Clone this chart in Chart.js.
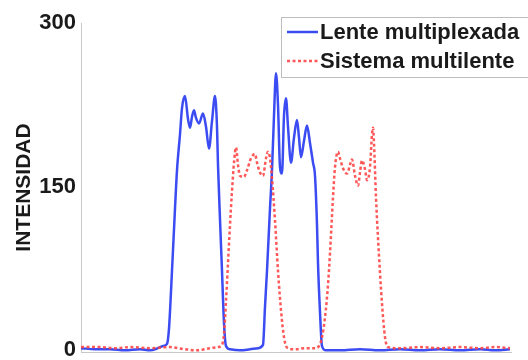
<!DOCTYPE html>
<html>
<head>
<meta charset="utf-8">
<script src="https://cdn.jsdelivr.net/npm/chart.js@4"></script>
<style>
  html, body { margin: 0; padding: 0; background: #fff; }
  #wrap { width: 528px; height: 360px; position: relative; }
</style>
</head>
<body>
<div id="wrap"><canvas id="chartIntensidad"></canvas></div>
<script>
// posicion a lo largo del perfil (sin etiquetas en el eje X)
const posLente = [0, 14, 29, 44, 59, 69, 77, 82, 86, 88, 91, 94, 96, 99, 101, 104, 107, 109, 111, 113,
    115, 118, 122, 125, 128, 131, 134, 136, 137, 139, 141, 143, 145, 149, 159, 169, 177, 182, 184, 186,
    189, 191, 193, 195, 197, 199, 201, 203, 205, 207, 210, 213, 216, 218, 220, 223, 226, 229, 232, 234,
    236, 237, 239, 241, 245, 259, 279, 299, 319, 339, 359, 379, 399, 414, 429];
const intLente = [2, 1, 1, 0, 1, 0, 2, 4, 6, 20, 73, 130, 165, 198, 222, 233, 212, 204, 214, 220,
    213, 208, 217, 205, 185, 210, 233, 205, 170, 120, 73, 25, 4, 1, 0, 1, 2, 5, 40, 73,
    130, 165, 215, 254, 225, 168, 162, 215, 231, 205, 172, 195, 211, 195, 177, 192, 206, 190, 172, 160,
    115, 80, 35, 4, 0, 0, 1, 0, 1, 0, 1, 0, 1, 0, 1];

const posSistema = [0, 19, 34, 49, 69, 89, 104, 116, 129, 137, 141, 143, 145, 147, 149, 151, 153, 155, 157, 159,
    163, 166, 170, 174, 176, 179, 182, 185, 187, 189, 191, 194, 197, 201, 204, 207, 214, 224, 234, 238,
    241, 244, 247, 249, 252, 254, 257, 259, 262, 266, 269, 271, 274, 277, 279, 281, 284, 286, 289, 291,
    292, 293, 295, 297, 301, 304, 307, 319, 339, 359, 379, 399, 414, 429];
const intSistema = [3, 3, 2, 3, 2, 3, 1, 0, 2, 3, 5, 15, 45, 80, 115, 146, 172, 186, 170, 160,
    159, 165, 176, 180, 172, 163, 160, 176, 182, 176, 158, 119, 73, 27, 7, 2, 1, 2, 2, 4,
    12, 30, 60, 89, 140, 168, 182, 176, 167, 162, 170, 175, 160, 151, 163, 174, 166, 156, 168, 198,
    204, 190, 140, 103, 43, 12, 3, 2, 3, 2, 3, 2, 3, 2];

const yTicks = [0, 150, 300];
const series = ['Lente multiplexada', 'Sistema multilente'];

const FUENTE = "'Liberation Sans', Arial, sans-serif";
const TEXTO = '#1a1a1a';

// leyenda dibujada dentro del area del grafico (arriba a la derecha)
const leyendaCaja = {
    id: 'leyendaCaja',
    afterDraw(chart) {
        const ctx = chart.ctx;
        const x0 = 281, y0 = 17, alto = 60, paso = 29;
        ctx.save();
        ctx.fillStyle = '#fff';
        ctx.fillRect(x0, y0, chart.width - x0 + 2, alto);
        ctx.strokeStyle = '#bdbdbd';
        ctx.lineWidth = 1;
        ctx.strokeRect(x0 + 0.5, y0 + 0.5, chart.width - x0 + 2, alto);
        ctx.font = 'bold 22px ' + FUENTE;
        ctx.textBaseline = 'middle';
        chart.data.datasets.forEach((ds, i) => {
            const y = y0 + 15 + i * paso;
            ctx.strokeStyle = ds.borderColor;
            ctx.lineWidth = ds.borderWidth;
            ctx.setLineDash(ds.borderDash || []);
            ctx.beginPath();
            ctx.moveTo(x0 + 6, y);
            ctx.lineTo(x0 + 37, y);
            ctx.stroke();
            ctx.setLineDash([]);
            ctx.fillStyle = TEXTO;
            ctx.fillText(ds.label, x0 + 39, y + 1);
        });
        ctx.restore();
    }
};

const ctx = document.getElementById('chartIntensidad');

new Chart(ctx, {
    type: 'line',
    data: {
        datasets: [
            {
                label: series[0],
                data: posLente.map((p, i) => ({ x: p, y: intLente[i] })),
                borderColor: '#3a4cf2',
                borderWidth: 2.5,
                pointRadius: 0,
                cubicInterpolationMode: 'monotone',
                order: 2
            },
            {
                label: series[1],
                data: posSistema.map((p, i) => ({ x: p, y: intSistema[i] })),
                borderColor: 'rgba(255, 70, 70, 0.9)',
                borderWidth: 2.5,
                borderDash: [3, 2.5],
                pointRadius: 0,
                cubicInterpolationMode: 'monotone',
                order: 1
            }
        ]
    },
    options: {
        responsive: true,
        maintainAspectRatio: false,
        animation: false,
        layout: { padding: { top: 23, right: 17, bottom: 0, left: 0 } },
        plugins: {
            legend: { display: false },
            tooltip: { enabled: false }
        },
        scales: {
            x: {
                type: 'linear',
                min: 0,
                max: 430,
                ticks: { display: false },
                grid: { display: false, drawTicks: false },
                border: { display: true, color: '#c8c8c8', width: 1 },
                afterFit: s => { s.height = 8; }
            },
            y: {
                min: -1.5,
                max: 300,
                afterBuildTicks: s => { s.ticks = yTicks.map(v => ({ value: v })); },
                ticks: {
                    color: TEXTO,
                    padding: 5,
                    font: { family: FUENTE, weight: 'bold', size: 22, lineHeight: 0.7 }
                },
                grid: { display: false, drawTicks: false },
                border: { display: true, color: '#c8c8c8', width: 1 },
                title: {
                    display: true,
                    text: 'INTENSIDAD',
                    color: TEXTO,
                    font: { family: FUENTE, weight: 'bold', size: 21 },
                    padding: { top: 12, bottom: 0 }
                },
                afterFit: s => {
                    s.width = 81;
                    s.paddingTop = 0;
                    s.paddingBottom = 0;
                }
            }
        }
    },
    plugins: [leyendaCaja]
});
</script>
</body>
</html>
